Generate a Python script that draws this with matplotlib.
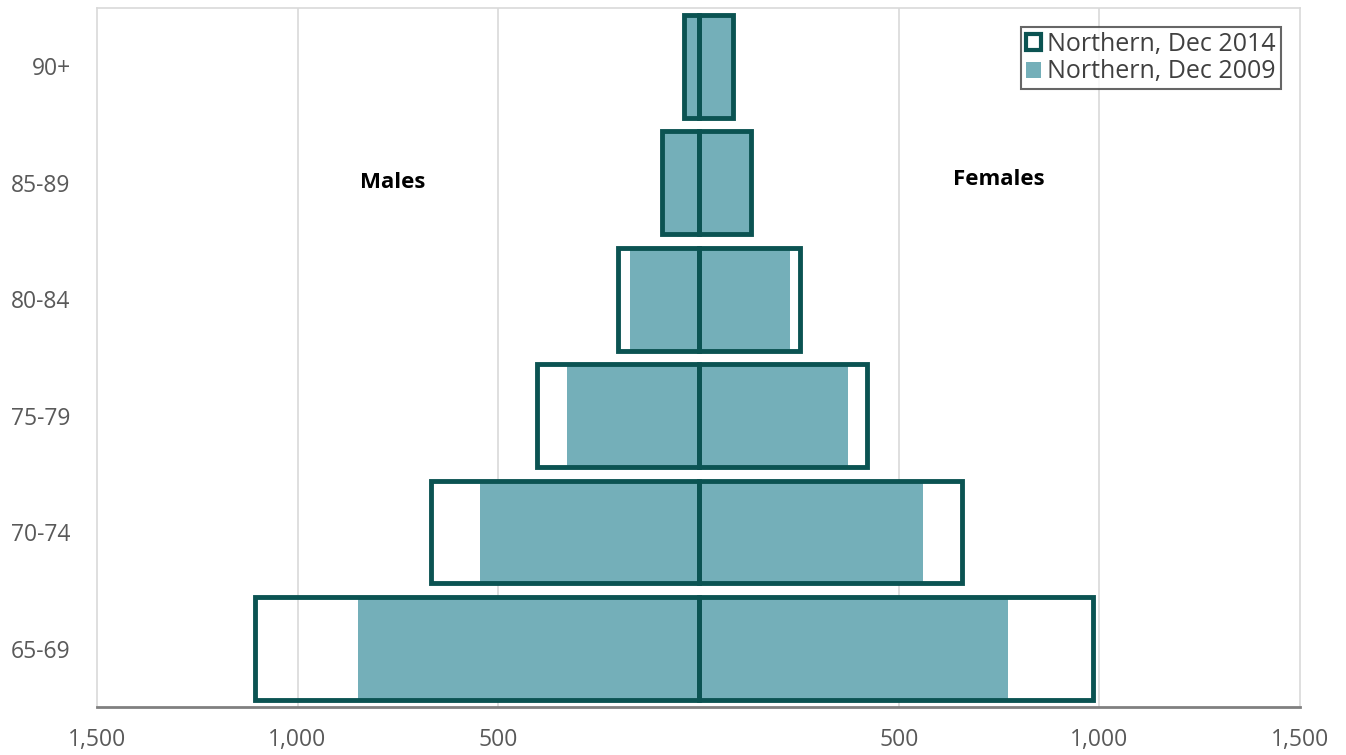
import numpy as np
import matplotlib.pyplot as plt
from matplotlib.patches import Patch
from matplotlib.ticker import FuncFormatter

plt.rcParams['font.family'] = ['Open Sans', 'DejaVu Sans']

# age groups, bottom to top
age_groups = ['65-69', '70-74', '75-79', '80-84', '85-89', '90+']

# Northern, Dec 2014 (outline)
males_2014 = [1105, 666, 404, 200, 92, 35]
females_2014 = [983, 656, 421, 254, 132, 85]

# Northern, Dec 2009 (filled)
males_2009 = [848, 544, 329, 172, 90, 33]
females_2009 = [771, 561, 372, 229, 130, 85]

x_ticks = [-1500, -1000, -500, 0, 500, 1000, 1500]

dark = '#0b5352'
fill = '#74afb9'
grey_txt = '#595959'

fig = plt.figure(figsize=(13.46, 7.55), dpi=100)
ax = fig.add_axes([0.0721, 0.0636, 0.8937, 0.9258])

y = np.arange(len(age_groups))
h = 0.88

# 2009 filled bars
ax.barh(y, -np.array(males_2009), height=h, color=fill, zorder=2)
ax.barh(y, females_2009, height=h, color=fill, zorder=2)

# 2014 outline bars
ax.barh(y, -np.array(males_2014), height=h, facecolor='none',
        edgecolor=dark, linewidth=3.5, zorder=3)
ax.barh(y, females_2014, height=h, facecolor='none',
        edgecolor=dark, linewidth=3.5, zorder=3)

ax.set_xlim(-1500, 1500)
ax.set_ylim(-0.5, len(age_groups) - 0.5)
ax.set_yticks(y)
ax.set_yticklabels(age_groups)
ax.set_xticks(x_ticks)
ax.xaxis.set_major_formatter(FuncFormatter(lambda v, p: '' if v == 0 else f'{abs(int(v)):,}'))

ax.tick_params(axis='both', length=0, labelsize=16.5, colors=grey_txt)
ax.tick_params(axis='y', pad=19)
ax.tick_params(axis='x', pad=15)

for v in [-1000, -500, 500, 1000]:
    ax.axvline(v, color='#d9d9d9', linewidth=1.2, zorder=1)

for side in ['top', 'left', 'right']:
    ax.spines[side].set_color('#d9d9d9')
    ax.spines[side].set_linewidth(1.2)
ax.spines['bottom'].set_color('#808080')
ax.spines['bottom'].set_linewidth(2)

ax.text(-763, 4, 'Males', fontsize=16, fontweight='bold', ha='center', va='center', color='black')
ax.text(748, 4.03, 'Females', fontsize=16, fontweight='bold', ha='center', va='center', color='black')

handles = [Patch(facecolor='white', edgecolor=dark, linewidth=3, label='Northern, Dec 2014'),
           Patch(facecolor=fill, edgecolor='none', label='Northern, Dec 2009')]
leg = ax.legend(handles=handles, loc='upper right', bbox_to_anchor=(0.984, 0.973),
                fontsize=18, frameon=True, fancybox=False, handlelength=0.6,
                handleheight=0.6, handletextpad=0.25, borderpad=0.2, labelspacing=0.1,
                borderaxespad=0)
leg.get_frame().set_edgecolor('#404040')
leg.get_frame().set_linewidth(1.5)
for t in leg.get_texts():
    t.set_color('#404040')

plt.savefig('out.png', dpi=100)
